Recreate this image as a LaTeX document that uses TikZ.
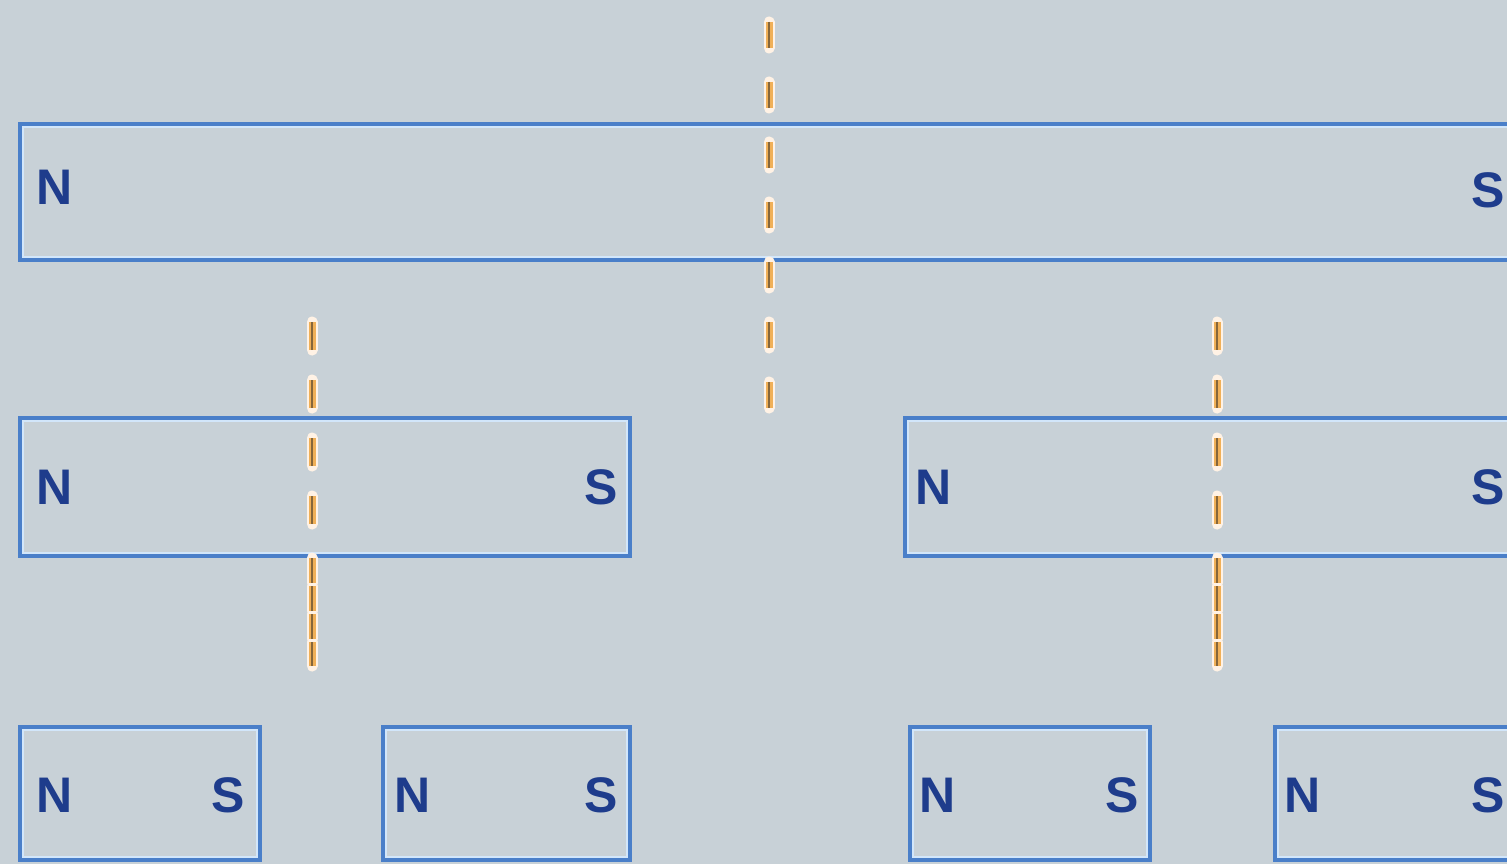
\documentclass[tikz,border=0pt]{standalone}
\usepackage{fontspec}
\newfontfamily\labfont{Liberation Sans}
\definecolor{bg}{HTML}{C8D1D7}
\definecolor{mblue}{HTML}{4A7FC9}
\definecolor{mlight}{HTML}{D2E6FA}
\definecolor{ltxt}{HTML}{1E3C8C}
\definecolor{axorange}{HTML}{F0B058}
\definecolor{axdark}{HTML}{86663A}
\tikzset{
  magnet/.style={draw=mblue, line width=3.5pt, inner sep=0pt, outer sep=0pt},
  innerline/.style={draw=mlight, line width=2pt},
  pole/.style={text=ltxt, font=\labfont\bfseries\fontsize{50}{50}\selectfont, inner sep=0pt},
  axw/.style={draw=white!90!orange, line width=11pt, line cap=round},
  axo/.style={draw=axorange, line width=7pt},
  axd/.style={draw=axdark, line width=2.5pt},
  sparse/.style={dash pattern=on 26pt off 34pt},
  sparseb/.style={dash pattern=on 28pt off 30pt},
  dense/.style={dash pattern=on 25pt off 3pt}
}
\newcommand{\axisseg}[3]{%
  \draw[axw,#3] (#1) -- (#2);
  \draw[axo,#3] (#1) -- (#2);
  \draw[axd,#3] (#1) -- (#2);}
\newcommand{\magbox}[4]{%
  \node[magnet, minimum width=#3pt, minimum height=#4pt] (#1) at (#2) {};
  \draw[innerline] ([shift={(2.75,2.75)}]#1.north west) rectangle ([shift={(-2.75,-2.75)}]#1.south east);}
\begin{document}
\begin{tikzpicture}[x=1pt,y=-1pt]
\clip (0,0) rectangle (1507,864);
\fill[bg] (0,0) rectangle (1507,864);
% magnets
\magbox{top}{775,192}{1510}{136}
\magbox{ml}{325,487}{610}{138}
\magbox{mr}{1220,487}{630}{138}
\magbox{b1}{140,793.5}{240}{133}
\magbox{b2}{506.5,793.5}{247}{133}
\magbox{b3}{1030,793.5}{240}{133}
\magbox{b4}{1400,793.5}{250}{133}
% axis coordinates
\coordinate (c1) at (769,22);
\coordinate (c2) at (769,408);
\coordinate (l1) at (312,322);
\coordinate (l2) at (312,524);
\coordinate (l3) at (312,558);
\coordinate (l4) at (312,666);
\coordinate (r1) at (1217,322);
\coordinate (r2) at (1217,524);
\coordinate (r3) at (1217,558);
\coordinate (r4) at (1217,666);
\axisseg{c1}{c2}{sparse}
\axisseg{l1}{l2}{sparseb}
\axisseg{l3}{l4}{dense}
\axisseg{r1}{r2}{sparseb}
\axisseg{r3}{r4}{dense}
% pole labels
\node[pole] (topN) at (55,187) {N};
\node[pole] (topS) at (1488,190) {S};
\node[pole] (mlN) at (55,487) {N};
\node[pole] (mlS) at (601,487) {S};
\node[pole] (mrN) at (934,487) {N};
\node[pole] (mrS) at (1488,487) {S};
\node[pole] (b1N) at (55,795) {N};
\node[pole] (b1S) at (228,795) {S};
\node[pole] (b2N) at (413,795) {N};
\node[pole] (b2S) at (601,795) {S};
\node[pole] (b3N) at (938,795) {N};
\node[pole] (b3S) at (1122,795) {S};
\node[pole] (b4N) at (1303,795) {N};
\node[pole] (b4S) at (1488,795) {S};
\end{tikzpicture}
\end{document}
